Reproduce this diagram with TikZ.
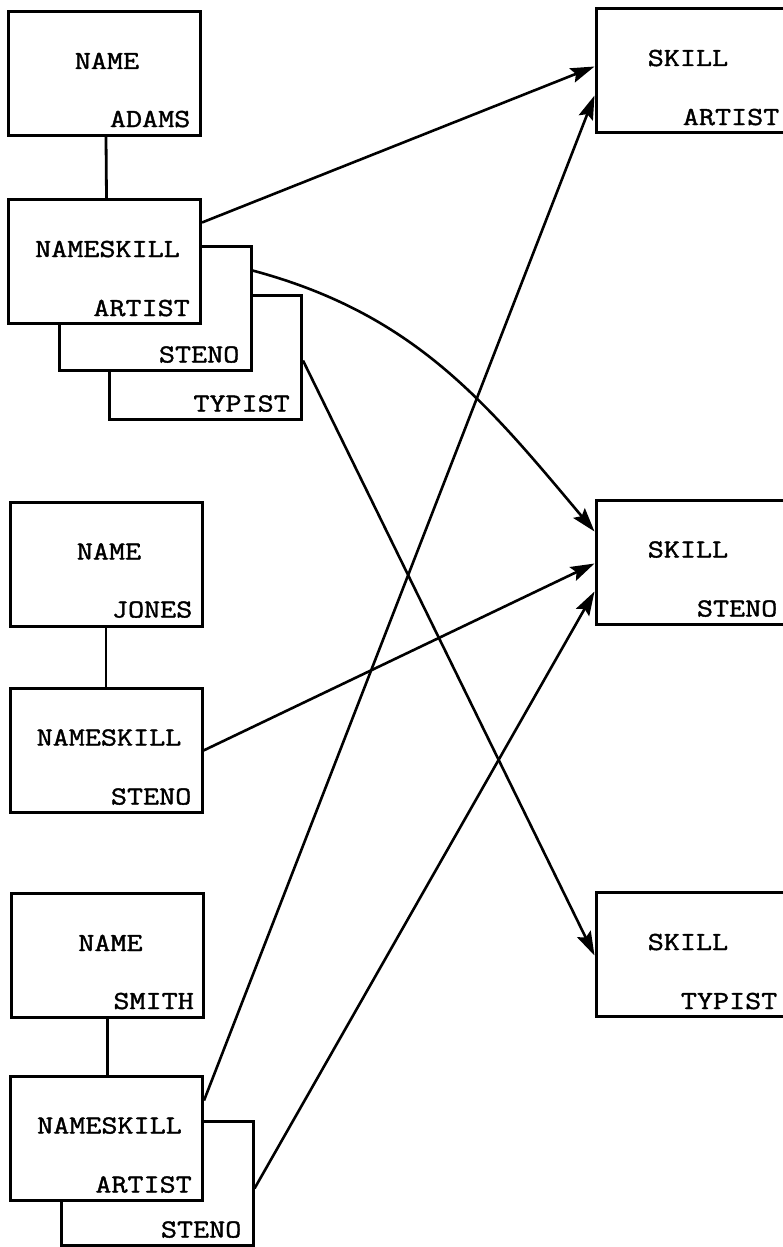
\documentclass[tikz,border=0pt]{standalone}
\usepackage{fontspec}
\setmonofont{Latin Modern Mono}[FakeStretch=1.2,FakeBold=1.5]
\usetikzlibrary{arrows.meta}
\begin{document}
\begin{tikzpicture}[x=1pt,y=-1pt,
  box/.style={draw,line width=3pt,fill=white,minimum width=192pt,minimum height=124pt,inner sep=0pt},
  ttl/.style={anchor=base,font=\ttfamily\fontsize{26}{28}\selectfont,inner sep=0pt},
  val/.style={anchor=base east,font=\ttfamily\fontsize{26}{28}\selectfont,inner sep=0pt},
  link/.style={line width=2.8pt},
  arr/.style={line width=2.6pt,-{Stealth[length=24pt,width=15pt,inset=4pt]}}]
\clip (0,0) rectangle (783,1247);
% ADAMS
\node[box] (an) at (104,73.5) {};
\node[box] (aty) at (205.5,357) {};
\node[box] (ast) at (155,308) {};
\node[box] (ans) at (104.5,261.5) {};
% JONES
\node[box] (jn) at (106,564) {};
\node[box] (jns) at (106,750) {};
% SMITH
\node[box] (sn) at (107.5,955.5) {};
\node[box] (sst) at (157,1183) {};
\node[box] (sns) at (106.5,1138) {};
% SKILLS
\node[box,minimum width=194pt] (ka) at (693,70.5) {};
\node[box,minimum width=194pt] (ks) at (693,562) {};
\node[box,minimum width=194pt] (kt) at (693,954.5) {};
% labels
\node[ttl] (tan) at ([xshift=3pt,yshift=-59pt]an.north) {NAME};
\node[val] (van) at ([xshift=-11pt,yshift=10pt]an.south east) {ADAMS};
\node[ttl] (tans) at ([xshift=3pt,yshift=-59pt]ans.north) {NAMESKILL};
\node[val] (vans) at ([xshift=-12pt,yshift=9pt]ans.south east) {ARTIST};
\node[val] (vast) at ([xshift=-13pt,yshift=9pt]ast.south east) {STENO};
\node[val] (vaty) at ([xshift=-13pt,yshift=9pt]aty.south east) {TYPIST};
\node[ttl] (tjn) at ([xshift=3pt,yshift=-59pt]jn.north) {NAME};
\node[val] (vjn) at ([xshift=-11pt,yshift=10pt]jn.south east) {JONES};
\node[ttl] (tjns) at ([xshift=3pt,yshift=-59pt]jns.north) {NAMESKILL};
\node[val] (vjns) at ([xshift=-12pt,yshift=9pt]jns.south east) {STENO};
\node[ttl] (tsn) at ([xshift=3pt,yshift=-59pt]sn.north) {NAME};
\node[val] (vsn) at ([xshift=-11pt,yshift=10pt]sn.south east) {SMITH};
\node[ttl] (tsns) at ([xshift=3pt,yshift=-59pt]sns.north) {NAMESKILL};
\node[val] (vsns) at ([xshift=-12pt,yshift=9pt]sns.south east) {ARTIST};
\node[val] (vsst) at ([xshift=-13pt,yshift=9pt]sst.south east) {STENO};
\node[ttl] (tka) at ([xshift=-5pt,yshift=-59pt]ka.north) {SKILL};
\node[val] (vka) at ([xshift=-12pt,yshift=9pt]ka.south east) {ARTIST};
\node[ttl] (tks) at ([xshift=-5pt,yshift=-59pt]ks.north) {SKILL};
\node[val] (vks) at ([xshift=-14pt,yshift=9pt]ks.south east) {STENO};
\node[ttl] (tkt) at ([xshift=-5pt,yshift=-59pt]kt.north) {SKILL};
\node[val] (vkt) at ([xshift=-14pt,yshift=9pt]kt.south east) {TYPIST};
% vertical links
\draw[link] ([xshift=2pt]an.south) -- ([xshift=2pt]ans.north);
\draw[link] (jn.south) -- (jns.north);
\draw[link] (sn.south) -- ([xshift=1pt]sns.north);
% arrows
\draw[arr] ([yshift=-24.5pt]ans.north east) -- ([yshift=-59.5pt]ka.north west);
\draw[arr] ([yshift=-26pt]ast.north east) to[out=-15,in=130] ([yshift=-33pt]ks.north west);
\draw[arr] ([yshift=-67pt]aty.north east) -- ([yshift=-64.5pt]kt.north west);
\draw[arr] ([yshift=-64pt]jns.north east) -- ([yshift=-65pt]ks.north west);
\draw[arr] ([yshift=-26pt]sns.north east) -- ([yshift=-88.5pt]ka.north west);
\draw[arr] ([yshift=-69pt]sst.north east) -- ([yshift=-93pt]ks.north west);
\end{tikzpicture}
\end{document}
